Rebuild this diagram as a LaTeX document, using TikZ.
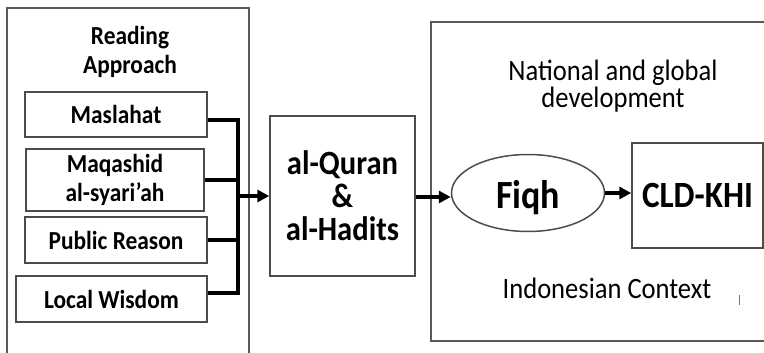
\documentclass[tikz,border=0pt]{standalone}
\usepackage{fontspec}
\setmainfont[FakeStretch=0.9]{Carlito}
\usetikzlibrary{arrows.meta,shapes.geometric}
\tikzset{
  outer/.style={draw=black!65, line width=1.8pt},
  inbox/.style={draw=black!70, line width=1.5pt, rectangle, inner sep=0pt, align=center},
  lab/.style={font=\bfseries\fontsize{26}{29}\selectfont},
  big/.style={font=\bfseries\fontsize{34}{33}\selectfont},
  plain/.style={font=\fontsize{29.5}{27}\selectfont, align=center},
  conn/.style={line width=3.4pt, line join=miter},
  arr/.style={line width=3.4pt, -{Triangle[length=12pt,width=12pt]}},
}
\begin{document}
\begin{tikzpicture}[x=1pt,y=-1pt]
\useasboundingbox (0,0) rectangle (764,353);
\clip (0,0) rectangle (764,353);
% outer frames
\draw[outer] (7,8) rectangle (249,370);
\draw[outer] (431,22) rectangle (790,341);
% left column
\node[lab, align=center] (ra) at (130,52) {Reading\\Approach};
\node[inbox, lab, minimum width=182pt, minimum height=45pt] (m) at (116,114.5) {Maslahat};
\node[inbox, lab, minimum width=178pt, minimum height=62pt] (mq) at (115,180) {Maqashid\\al-syari’ah};
\node[inbox, lab, minimum width=182pt, minimum height=46pt] (pr) at (116,240) {Public Reason};
\node[inbox, lab, minimum width=191pt, minimum height=46pt] (lw) at (111.5,299) {Local Wisdom};
% middle
\node[inbox, big, minimum width=145pt, minimum height=160pt] (q) at (342.5,196) {al-Quran\\\&\\al-Hadits};
% right
\node[plain] (nd) at (613,86) {National and global\\development};
\node[ellipse, draw=black!70, line width=1.5pt, minimum width=153pt, minimum height=77pt, inner sep=0pt, font=\bfseries\fontsize{40}{40}\selectfont] (f) at (528,193) {\raisebox{-5pt}[\height][\depth]{Fiqh}};
\node[inbox, font=\bfseries\fontsize{37}{37}\selectfont, minimum width=131pt, minimum height=105pt] (c) at (697.5,195.5) {CLD-KHI};
\node[plain] (ic) at (607,288) {Indonesian Context};
\coordinate (t1) at (739,295);
\coordinate (t2) at (739,305);
\draw[blue!60, line width=0.8pt] (t1) -- (t2);
% connectors
\coordinate (bt) at (238,120);
\coordinate (bb) at (238,293);
\draw[conn] ([yshift=-5.5pt]m.east) -- (bt) -- (bb) -- ([yshift=6pt]lw.east);
\draw[conn] (mq.east) -- (mq.east -| bt);
\draw[conn] (pr.east) -- (pr.east -| bt);
\draw[arr] (bt |- q.west) -- (q.west);
\draw[arr] ([yshift=-1pt]q.east) -- ([yshift=-1pt]q.east -| f.west);
\draw[arr] (f.east) -- (f.east -| c.west);
\end{tikzpicture}
\end{document}
